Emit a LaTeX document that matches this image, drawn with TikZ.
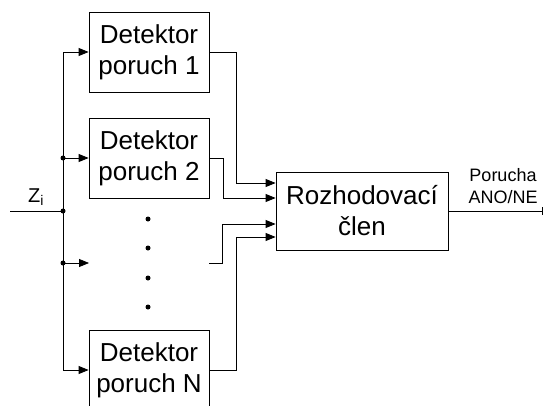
\documentclass[tikz,border=0pt]{standalone}
\usepackage{fontspec}
\setmainfont{Liberation Sans}
\usetikzlibrary{arrows.meta}

\begin{document}
\begin{tikzpicture}[
  x=1pt, y=-1pt,
  detbox/.style={
    rectangle, draw=black, line width=0.8pt, inner sep=0pt,
    minimum width=120pt, minimum height=80pt, align=center,
    font=\fontsize{26}{31}\selectfont,
  },
  decbox/.style={detbox, minimum width=172pt, minimum height=78pt},
  wire/.style={line width=0.8pt, draw=black},
  arrow/.style={wire, -{Triangle[length=10pt,width=8pt]}},
  junc/.style={circle, fill=black, inner sep=0pt, minimum size=5pt},
  vdot/.style={circle, fill=black, inner sep=0pt, minimum size=5pt},
]

% Frame
\useasboundingbox (0,0) rectangle (545,406);
\clip (0,0) rectangle (545,406);

% Detectors
\node[detbox] (det1) at (149,52)  {Detektor\\poruch 1};
\node[detbox] (det2) at (149,158) {Detektor\\poruch 2};
\node[detbox] (detN) at (149,370) {Detektor\\poruch N};

% Decision block
\node[decbox] (dec) at (362,211) {Rozhodovací\\člen};

% Bus points
\coordinate (zin) at (10,211);
\coordinate (j0) at (63,211);
\coordinate (j3) at (63,263);
\coordinate (det3in) at (89,263);
\coordinate (det3out) at (209,263);
\coordinate (out) at (543,211);

% Labels
\node[font=\fontsize{20}{24}\selectfont] (zlabel) at (36,197) {Z\textsubscript{i}};
\node[font=\fontsize{18}{21.5}\selectfont, align=center] (ansLabel) at (503,186) {Porucha\\ANO/NE};

% Input bus
\draw[wire] (zin) -- (j0);
\draw[arrow] (j0) |- (det1.west);
\draw[arrow] (j0) |- (detN.west);
\draw[arrow] (j0 |- det2.west) -- (det2.west);
\draw[arrow] (j3) -- (det3in);
\node[junc] (jn2) at (j0 |- det2.west) {};
\node[junc] (jn0) at (j0) {};
\node[junc] (jn3) at (j3) {};

% Missing detectors
\foreach \y in {219,248,278,307}
  \node[vdot] (dot\y) at (148,\y) {};

% Detector outputs
\draw[arrow] (det1.east) -- ++(27,0) |- ([yshift=28pt]dec.west);
\draw[arrow] (det2.east) -- ++(14,0) |- ([yshift=13pt]dec.west);
\draw[arrow] (det3out) -- ++(13,0) |- ([yshift=-13pt]dec.west);
\draw[arrow] (detN.east) -- ++(27,0) |- ([yshift=-26pt]dec.west);

% Output
\draw[wire, -{Bar[width=8pt]}] (dec.east) -- (out);

\end{tikzpicture}
\end{document}
